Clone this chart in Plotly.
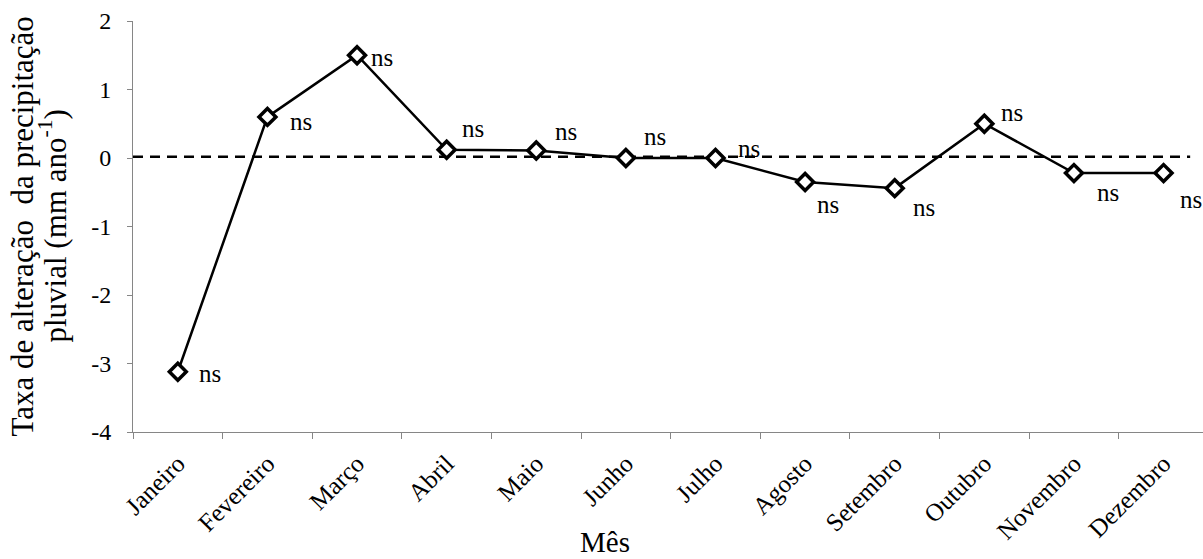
import plotly.graph_objects as go

months = ["Janeiro", "Fevereiro", "Março", "Abril", "Maio", "Junho", "Julho",
          "Agosto", "Setembro", "Outubro", "Novembro", "Dezembro"]
values = [-3.12, 0.60, 1.50, 0.12, 0.11, 0.0, 0.0, -0.35, -0.44, 0.50, -0.22, -0.22]
signif = ["ns"] * 12
y_ticks = [2, 1, 0, -1, -2, -3, -4]
x_title = "Mês"
y_title_lines = ["Taxa de alteração&nbsp; da precipitação", "pluvial (mm ano<sup>-1</sup>)"]

# label offsets in pixels (style)
xshifts = [32, 34, 25, 26, 30, 29, 33, 23, 29, 28, 34, 27]
yshifts = [-2, -5, -2, 21, 19, 22, 10, -23, -19, 11, -19, -26]

FONT = "Liberation Serif"

fig = go.Figure()
fig.add_trace(go.Scatter(
    x=months, y=values, mode="lines+markers",
    line=dict(color="black", width=2.5),
    marker=dict(symbol="diamond", size=13, color="white",
                line=dict(color="black", width=3.5)),
    showlegend=False, hoverinfo="skip"))

fig.add_shape(type="line", xref="paper", yref="y", x0=0, x1=0.988, y0=0.02, y1=0.02,
              line=dict(color="black", width=2.5, dash="10px,7px"), layer="below")

for m, v, s, dx, dy in zip(months, values, signif, xshifts, yshifts):
    fig.add_annotation(x=m, y=v, text=s, showarrow=False, xshift=dx, yshift=dy,
                       font=dict(family=FONT, size=25, color="black"))

# axis titles
fig.add_annotation(xref="paper", yref="paper", x=0.441, y=0, yshift=-110,
                   xanchor="center", yanchor="middle", showarrow=False,
                   text=x_title, font=dict(family=FONT, size=29, color="black"))
for txt, xs in zip(y_title_lines, [-111, -80]):
    fig.add_annotation(xref="paper", yref="paper", x=0, y=0.5, xshift=xs,
                       xanchor="center", yanchor="middle", showarrow=False,
                       textangle=-90, text=txt,
                       font=dict(family=FONT, size=31, color="black"))

fig.update_layout(
    width=1203, height=559,
    margin=dict(l=133, r=0, t=21, b=127),
    paper_bgcolor="white", plot_bgcolor="white",
    font=dict(family=FONT, color="black"),
)
fig.update_xaxes(
    type="category", range=[-0.5, 11.44], automargin=False,
    showline=True, linecolor="#868686", linewidth=1,
    ticks="outside", tickson="boundaries", ticklen=6, tickcolor="#868686",
    tickangle=-45, ticklabelstandoff=6, ticklabeloverflow="allow",
    tickfont=dict(family=FONT, size=25, color="black"),
    showgrid=False, zeroline=False,
)
fig.update_yaxes(
    range=[-4, 2], tickvals=y_ticks, ticktext=[str(t) for t in y_ticks],
    automargin=False, ticklabeloverflow="allow",
    showline=True, linecolor="#868686", linewidth=1,
    ticks="outside", ticklen=5, tickcolor="#868686", ticklabelstandoff=11,
    tickfont=dict(family=FONT, size=24, color="black"),
    showgrid=False, zeroline=False,
)

fig.write_html("out.html", config={"displayModeBar": False},
               post_script="document.body.style.margin='0';document.body.style.overflow='hidden';")
